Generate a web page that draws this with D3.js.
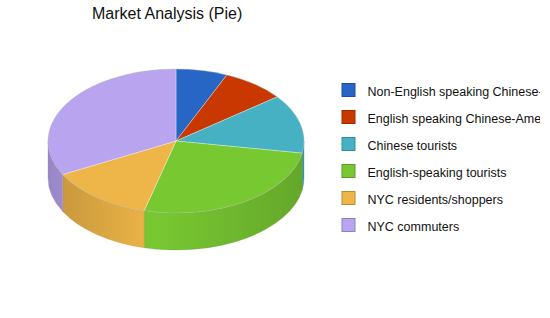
<!DOCTYPE html>
<html><head><meta charset="utf-8">
<script src="https://cdn.jsdelivr.net/npm/d3@7"></script>
<style>body{margin:0;background:#fff}svg{display:block}</style>
</head><body>
<svg id="chart" width="550" height="318"></svg>
<script>
const categories = ["Non-English speaking Chinese-Americans","English speaking Chinese-Americans","Chinese tourists","English-speaking tourists","NYC residents/shoppers","NYC commuters"];
const values = [6.5, 8.0, 13.2, 26.3, 13.3, 32.7];
const colors = ["#2766c4","#c83800","#47b1c4","#78c832","#eeb548","#b9a4f0"];
const title = "Market Analysis (Pie)";

const svg = d3.select("#chart");
const cx = 176, cy = 141, rx = 128, ry = 72, depth = 37;
const defs = svg.append("defs");

const pie = d3.pie().sort(null).value(d => d)(values);
const P = (a, dy = 0) => [cx + rx * Math.sin(a), cy - ry * Math.cos(a) + dy];

colors.forEach((c, i) => {
  const g = defs.append("linearGradient").attr("id", "g" + i)
    .attr("gradientUnits", "userSpaceOnUse")
    .attr("x1", cx - rx).attr("x2", cx + rx).attr("y1", 0).attr("y2", 0);
  const base = d3.color(c);
  [[0, 0.55], [0.42, 0], [1, 0.5]].forEach(([o, k]) => {
    g.append("stop").attr("offset", o).attr("stop-color", base.darker(k).formatHex());
  });
});

// sides
const sides = svg.append("g");
pie.forEach((d, i) => {
  const s0 = Math.max(d.startAngle, Math.PI / 2), s1 = Math.min(d.endAngle, 3 * Math.PI / 2);
  if (s0 >= s1) return;
  const a = P(s0), b = P(s1), a2 = P(s0, depth), b2 = P(s1, depth);
  const path = `M${a}A${rx},${ry} 0 0 1 ${b}L${b2}A${rx},${ry} 0 0 0 ${a2}Z`;
  sides.append("path").attr("d", path).attr("fill", `url(#g${i})`)
    .attr("stroke", d3.color(colors[i]).darker(0.6)).attr("stroke-width", 0.5).attr("stroke-opacity", 0.6);
});

// tops
const tops = svg.append("g");
pie.forEach((d, i) => {
  const a = P(d.startAngle), b = P(d.endAngle);
  const large = d.endAngle - d.startAngle > Math.PI ? 1 : 0;
  const path = `M${cx},${cy}L${a}A${rx},${ry} 0 ${large} 1 ${b}Z`;
  tops.append("path").attr("d", path).attr("fill", colors[i])
    .attr("stroke", "rgba(255,255,255,0.45)").attr("stroke-width", 0.7);
});
// rim
svg.append("ellipse").attr("cx", cx).attr("cy", cy).attr("rx", rx).attr("ry", ry)
  .attr("fill", "none").attr("stroke", "rgba(0,0,0,0.18)").attr("stroke-width", 0.6);

// title
svg.append("text").attr("x", 92).attr("y", 19).text(title)
  .attr("font-family", "Liberation Sans, Arial, sans-serif").attr("font-size", 16).attr("fill", "#111");

// legend
defs.append("clipPath").attr("id", "lc").append("rect").attr("x", 0).attr("y", 0).attr("width", 540).attr("height", 318);
const y = d3.scaleBand().domain(categories).range([76.5, 238.5]);
const leg = svg.append("g").attr("clip-path", "url(#lc)");
categories.forEach((c, i) => {
  const yy = y(c) + y.bandwidth() / 2;
  leg.append("rect").attr("x", 342).attr("y", yy - 6.5).attr("width", 13).attr("height", 13)
    .attr("fill", colors[i]).attr("stroke", d3.color(colors[i]).darker(0.7)).attr("stroke-width", 1);
  leg.append("text").attr("x", 367.5).attr("y", yy + 6).text(c)
    .attr("font-family", "Liberation Sans, Arial, sans-serif").attr("font-size", 12.5).attr("fill", "#111");
});
</script>
</body></html>
